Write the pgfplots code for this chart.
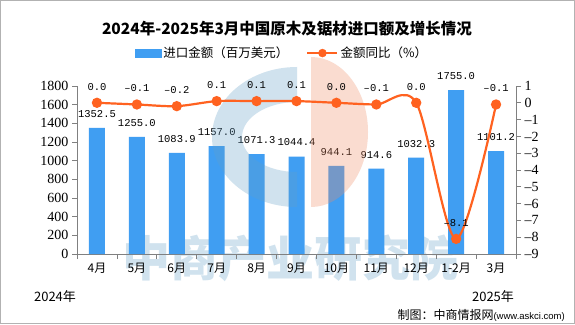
\documentclass[border=0pt]{standalone}
\usepackage{pgfplots}
\pgfplotsset{compat=1.18}
\usepackage{fontspec}
\setmainfont{Liberation Serif}
\newfontfamily\cjk{Noto Sans CJK SC}
\newfontfamily\monof{Liberation Mono}
\newfontfamily\sansf{Liberation Sans}
\definecolor{barblue}{RGB}{64,158,242}
\definecolor{lineor}{RGB}{255,98,32}
\definecolor{axgray}{RGB}{128,128,128}
\definecolor{wmblue}{RGB}{100,160,200}
\definecolor{wmor}{RGB}{240,140,100}
\begin{document}
\begin{tikzpicture}[x=1pt,y=1pt]
\useasboundingbox (0,0) rectangle (575,324);
\fill[white] (0,0) rectangle (575,324);
% watermark text (behind)
\node[font=\cjk\bfseries\fontsize{48}{48}\selectfont, text=wmblue, opacity=0.3] at (290,66) {中商产业研究院};
\begin{axis}[
  at={(77pt,70pt)}, anchor=south west, scale only axis,
  width=439pt, height=168pt,
  xmin=-0.5, xmax=10.5, ymin=0, ymax=1800,
  clip=false,
  axis y line*=left, axis x line*=bottom,
  axis line style={axgray, line width=0.8pt, -},
  xtick={-0.5,0.5,...,10.5}, xticklabels={},
  extra x ticks={0,1,2,3,4,5,6,7,8,9,10},
  extra x tick labels={4月,5月,6月,7月,8月,9月,10月,11月,12月,1-2月,3月},
  extra x tick style={major tick length=0pt},
  xticklabel style={font=\cjk\fontsize{12}{12}\selectfont, yshift=-6pt},
  ytick={0,200,...,1800},
  /pgf/number format/1000 sep={},
  /pgf/number format/assume math mode=true,
  yticklabel style={font=\fontsize{14}{14}\selectfont},
  tick align=outside, major tick length=5pt,
  tick style={axgray, line width=0.8pt},
]
\addplot[ybar, bar width=16pt, fill=barblue, draw=none,
  nodes near coords, point meta=explicit symbolic,
  nodes near coords style={font=\monof\fontsize{10.5}{10.5}\selectfont, anchor=south, yshift=7pt, text=black}]
  coordinates {(0,1352.5)[1352.5] (1,1255.0)[1255.0] (2,1083.9)[1083.9] (3,1157.0)[1157.0]
  (4,1071.3)[1071.3] (5,1044.4)[1044.4] (6,944.1)[944.1] (7,914.6)[914.6]
  (8,1032.3)[1032.3] (9,1755.0)[1755.0] (10,1101.2)[1101.2]};
\end{axis}
% logo watermark (over bars)
\fill[wmblue, opacity=0.3] (297,257) arc[start angle=90,end angle=270,x radius=85,y radius=70] -- (297,152) arc[start angle=270,end angle=90,x radius=55,y radius=35] -- cycle;
\fill[wmor, opacity=0.3] (311,267) arc[start angle=90,end angle=-90,x radius=57,y radius=75] -- cycle;
\begin{axis}[
  at={(77pt,70pt)}, anchor=south west, scale only axis,
  width=439pt, height=168pt,
  xmin=-0.5, xmax=10.5, ymin=-9, ymax=1,
  clip=false,
  axis y line*=right, axis x line=none,
  axis line style={axgray, line width=0.8pt, -},
  ytick={-9,-8,-7,-6,-5,-4,-3,-2,-1,0,1},
  yticklabels={–9,–8,–7,–6,–5,–4,–3,–2,–1,0,1},
  yticklabel style={font=\fontsize{14}{14}\selectfont},
  tick align=outside, major tick length=5pt,
  tick style={axgray, line width=0.8pt},
  legend style={at={(0.467,1.196)}, anchor=center, draw=none, fill=none,
    legend columns=2, font=\cjk\fontsize{12.5}{12.5}\selectfont,
    /tikz/every even column/.append style={column sep=16pt}},
]
\addlegendimage{legend image code/.code={\fill[barblue] (0pt,-4pt) rectangle (26pt,4pt);}}
\addlegendentry{进口金额（百万美元）}
\addlegendimage{legend image code/.code={\draw[lineor, line width=2.2pt] (0pt,0pt) -- (30pt,0pt); \fill[lineor] (15pt,0pt) circle (4pt);}}
\addlegendentry{金额同比（\%）}
\addplot[forget plot, lineor, line width=2.2pt, smooth, mark=*, mark size=4pt,
  mark options={fill=lineor, draw=lineor},
  nodes near coords, point meta=explicit symbolic,
  nodes near coords style={font=\monof\fontsize{10.5}{10.5}\selectfont, anchor=south, yshift=8pt, text=black}]
  coordinates {(0,0.0)[0.0] (1,-0.1)[–0.1] (2,-0.2)[–0.2] (3,0.1)[0.1] (4,0.1)[0.1]
  (5,0.1)[0.1] (6,0.0)[0.0] (7,-0.1)[–0.1] (8,0.0)[0.0] (9,-8.1)[–8.1] (10,-0.1)[–0.1]};
\end{axis}
\node[font=\cjk\bfseries\fontsize{15.5}{15.5}\selectfont] at (287,295) {2024年-2025年3月中国原木及锯材进口额及增长情况};
\node[font=\cjk\fontsize{13}{13}\selectfont] at (55,27) {2024年};
\node[font=\cjk\fontsize{13}{13}\selectfont] at (493,27) {2025年};
\node[anchor=east, inner sep=0pt] at (565,9) {{\cjk\fontsize{12}{12}\selectfont 制图：中商情报网}{\sansf\fontsize{9.5}{9.5}\selectfont(www.askci.com)}};
\draw[gray!60, line width=1pt] (0.5,0.5) rectangle (574.5,323.5);
\end{tikzpicture}
\end{document}
